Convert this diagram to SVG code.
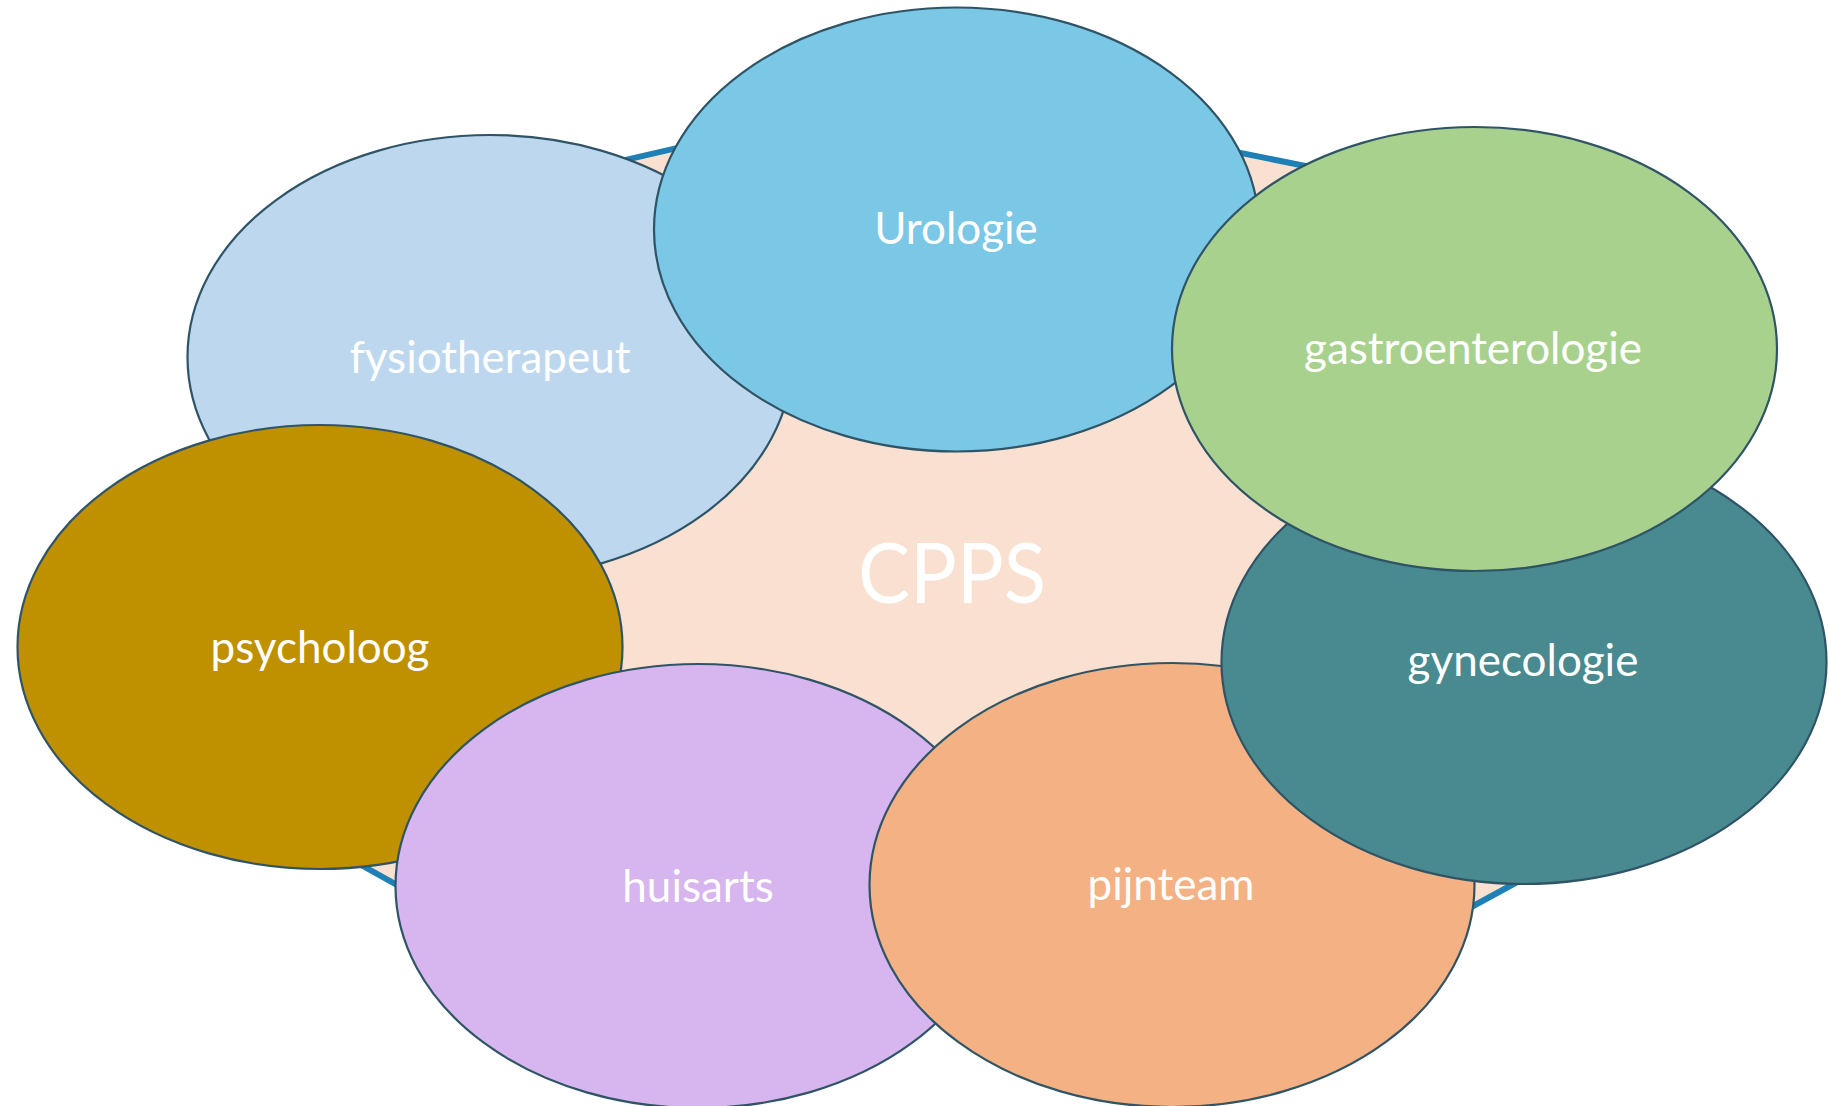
<svg xmlns="http://www.w3.org/2000/svg" width="1829" height="1106" viewBox="0 0 1829 1106">
<style>
.bg{fill:#ffffff}
.hub{fill:#F9E0D0;stroke:#1E80B5;stroke-width:6;stroke-linejoin:miter}
.node{stroke:#2F5466;stroke-width:2.2}
.lbl{font-family:Lato,"Liberation Sans",sans-serif;font-size:44px;fill:#ffffff;text-anchor:middle}
.hubtxt{font-family:Lato,"Liberation Sans",sans-serif;font-size:83px;fill:#ffffff;text-anchor:middle}
</style>
<rect class="bg" x="0" y="0" width="1829" height="1106"/>
<g id="connectors"></g>
<g id="hub">
<polygon class="hub" points="929,90 1600,225.5 1700,782.4 1300,1000.4 550,970.2 230,792 330,228"/>
<text class="hubtxt" x="952" y="603" textLength="188" lengthAdjust="spacingAndGlyphs">CPPS</text>
</g>
<g id="node-fysiotherapeut">
<ellipse class="node" cx="490" cy="357" rx="302.5" ry="222" fill="#BDD7EE"/>
<text class="lbl" x="490" y="373">fysiotherapeut</text>
</g>
<g id="node-psycholoog">
<ellipse class="node" cx="320" cy="647" rx="302.5" ry="222" fill="#BF9000"/>
<text class="lbl" x="320" y="663">psycholoog</text>
</g>
<g id="node-huisarts">
<ellipse class="node" cx="698" cy="886" rx="302.5" ry="222" fill="#D7B5EE"/>
<text class="lbl" x="698" y="902">huisarts</text>
</g>
<g id="node-pijnteam">
<ellipse class="node" cx="1172" cy="885" rx="302.5" ry="222" fill="#F4B183"/>
<text class="lbl" x="1171" y="900">pijnteam</text>
</g>
<g id="node-gynecologie">
<ellipse class="node" cx="1524" cy="662" rx="302.5" ry="222" fill="#488A8F"/>
<text class="lbl" x="1523" y="676">gynecologie</text>
</g>
<g id="node-urologie">
<ellipse class="node" cx="956.5" cy="229.5" rx="302.5" ry="222" fill="#7AC7E6"/>
<text class="lbl" x="956" y="244">Urologie</text>
</g>
<g id="node-gastroenterologie">
<ellipse class="node" cx="1474.5" cy="349" rx="302.5" ry="222" fill="#A9D18E"/>
<text class="lbl" x="1473" y="364">gastroenterologie</text>
</g>
</svg>
